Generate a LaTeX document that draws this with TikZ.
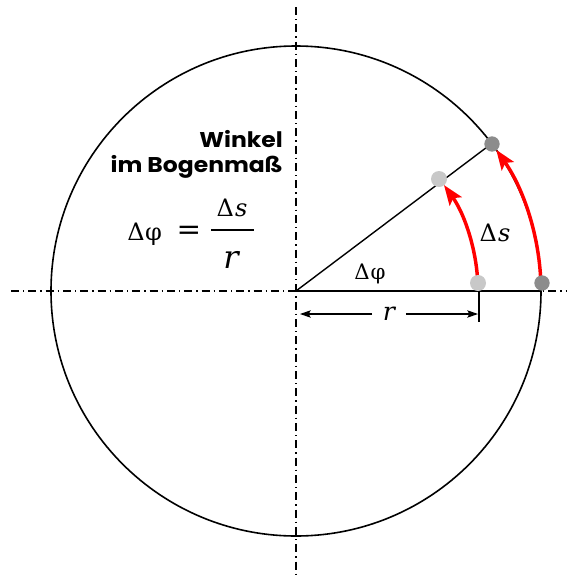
\documentclass[tikz,border=0pt]{standalone}
\usepackage{fontspec}
\setmainfont{DejaVu Serif}
\newfontfamily\tms{DejaVu Serif}
\newfontfamily\geo[FakeStretch=1.1]{Poppins}
\usetikzlibrary{arrows.meta,calc}
\definecolor{lightdot}{HTML}{C8C8C8}
\definecolor{darkdot}{HTML}{8C8C8C}
\begin{document}
\begin{tikzpicture}[x=0.75pt,y=-0.75pt,
  axisline/.style={line width=0.8pt, dash pattern=on 6pt off 3pt on 1pt off 3pt},
  solidline/.style={line width=1.05pt},
  redarc/.style={line width=2.6pt, red, -{Stealth[length=15pt,width=11pt,inset=3pt]}},
  dimarrow/.style={line width=0.9pt, -{Stealth[length=8pt,width=5.5pt,inset=1.5pt]}},
  lightpt/.style={circle, fill=lightdot, minimum size=12pt, inner sep=0pt},
  darkpt/.style={circle, fill=darkdot, minimum size=11.5pt, inner sep=0pt},
  titletext/.style={font=\geo\bfseries\fontsize{16}{18}\selectfont, inner sep=0pt},
  formula/.style={inner sep=0pt}
]
\useasboundingbox (0,0) rectangle (571,576);
\coordinate (O) at (296,291);
% axes
\coordinate (axL) at (11,291);
\coordinate (axR) at (567,291);
\coordinate (axT) at (296,7);
\coordinate (axB) at (296,576);
\draw[axisline] (axL) -- (axR);
\draw[axisline] (axT) -- (axB);
% circle
\draw[solidline, line width=1.2pt] (O) circle[radius=245];
% radius lines
\coordinate (P0) at ($(O)+(0:245)$);
\coordinate (P1) at ($(O)+(-37:245)$);
\draw[solidline] (O) -- (P0);
\draw[solidline] (O) -- (P1);
% red arcs
\coordinate (A1s) at ($(O)+(-4.4:182)$);
\coordinate (A2s) at ($(O)+(-3.4:245)$);
\draw[redarc] (A1s) arc[start angle=-4.4, end angle=-35.6, radius=182];
\draw[redarc] (A2s) arc[start angle=-3.4, end angle=-35.2, radius=245];
% dots
\node[lightpt] (d1) at (478,283) {};
\node[darkpt]  (d2) at (542,283) {};
\node[lightpt] (d3) at (439,179) {};
\node[darkpt]  (d4) at (492,144) {};
% dimension
\coordinate (tickT) at (479,291);
\coordinate (tickB) at (479,322);
\draw[line width=1pt] (tickT) -- (tickB);
\node[formula, font=\tms\itshape\fontsize{19}{22}\selectfont, minimum width=25pt] (rlab) at (389,314) {r};
\coordinate (dimL) at (300,314);
\coordinate (dimR) at (478,314);
\draw[dimarrow] (rlab.west) -- (dimL);
\draw[dimarrow] (rlab.east) -- (dimR);
% labels
\node[formula, font=\tms\fontsize{16}{18}\selectfont, anchor=base] (dphi) at (370,279) {Δ\kern0.5ptφ};
\node[formula, font=\tms\fontsize{18}{20}\selectfont, anchor=base] (ds) at (495,241) {Δ\kern1pt\textit{s}};
% title
\node[titletext, anchor=base east] (t1) at (283,147) {Winkel};
\node[titletext, anchor=base east] (t2) at (283,172) {im Bogenmaß};
% formula
\node[formula, font=\tms\fontsize{18}{20}\selectfont, anchor=base west] (f1) at (127,240) {Δ\kern0.5ptφ};
\node[formula, font=\tms\fontsize{22}{24}\selectfont, anchor=center] (feq) at (189,233) {=};
\node[formula, font=\tms\fontsize{18}{20}\selectfont, anchor=base] (fnum) at (232,216) {Δ\kern1pt\textit{s}};
\coordinate (barL) at (211,230);
\coordinate (barR) at (254,230);
\draw[line width=1pt] (barL) -- (barR);
\node[formula, font=\tms\itshape\fontsize{24}{30}\selectfont, anchor=base] (fden) at (231,268) {r};
\end{tikzpicture}
\end{document}
